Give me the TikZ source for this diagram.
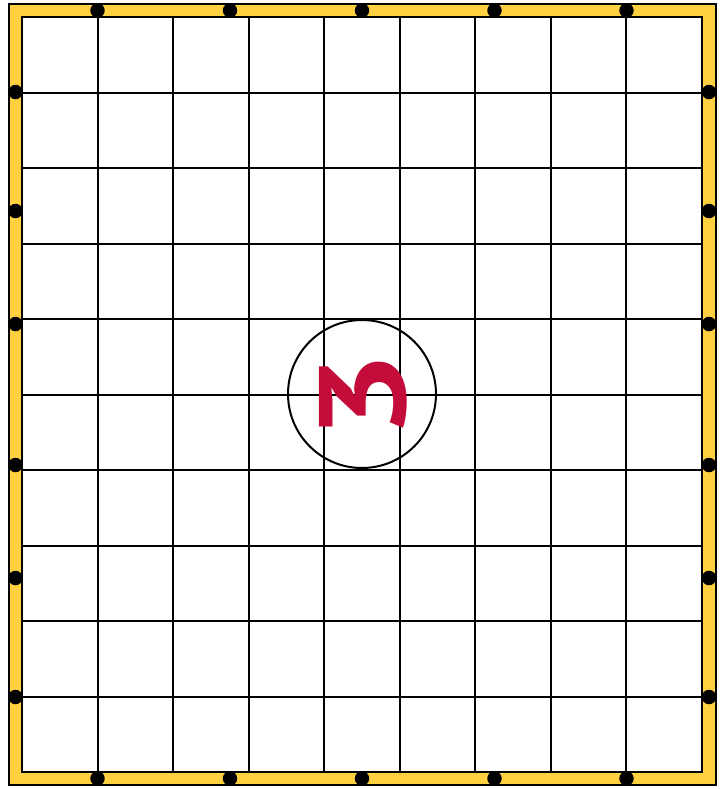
\documentclass[tikz,border=0pt]{standalone}
\usepackage{fontspec}
\newfontfamily\digitfont{PT Sans}
\usepackage{xcolor}
\usepackage{tikz}
\usetikzlibrary{positioning}

\definecolor{frameyellow}{RGB}{255,208,64}
\definecolor{sealred}{RGB}{196,12,58}

\begin{document}
\begin{tikzpicture}[
    x=0.02cm, y=-0.02cm,
    frame/.style={draw=black, line width=0.05cm, fill=frameyellow},
    board/.style={draw=black, line width=0.04cm, fill=white},
    peg/.style={circle, fill=black, inner sep=0pt, minimum size=0.29cm},
    seal/.style={circle, draw=black, line width=0.04cm, minimum size=2.96cm, inner sep=0pt},
    digit/.style={text=sealred, font=\digitfont\bfseries\fontsize{70}{70}\selectfont, inner sep=0pt}
]
\useasboundingbox (0,0) rectangle (725,789);

% Frame and board
\draw[frame] (9,4) rectangle (716,785);
\draw[board] (22,17) rectangle (702,772);

% Grid: 9 columns, 10 rows
\foreach \i in {1,...,8}
    \draw[line width=0.04cm] ({22+\i*680/9},17) -- ({22+\i*680/9},772);
\foreach \j in {1,...,9}
    \draw[line width=0.04cm] (22,{17+\j*75.5}) -- (702,{17+\j*75.5});

% Pegs top and bottom
\node[peg] (t1) at (97.5,10.5) {};
\node[peg] (t2) at (230,10.5) {};
\node[peg] (t3) at (362,10.5) {};
\node[peg] (t4) at (494.5,10.5) {};
\node[peg] (t5) at (626.5,10.5) {};
\node[peg] (b1) at (97.5,778.5) {};
\node[peg] (b2) at (230,778.5) {};
\node[peg] (b3) at (362,778.5) {};
\node[peg] (b4) at (494.5,778.5) {};
\node[peg] (b5) at (626.5,778.5) {};

% Pegs left and right
\node[peg] (l1) at (15.5,92) {};
\node[peg] (l2) at (15.5,211) {};
\node[peg] (l3) at (15.5,324) {};
\node[peg] (l4) at (15.5,465) {};
\node[peg] (l5) at (15.5,578) {};
\node[peg] (l6) at (15.5,697) {};
\node[peg] (r1) at (709,92) {};
\node[peg] (r2) at (709,211) {};
\node[peg] (r3) at (709,324) {};
\node[peg] (r4) at (709,465) {};
\node[peg] (r5) at (709,578) {};
\node[peg] (r6) at (709,697) {};

% Centre seal
\node[seal] (ring) at (362,394) {};
\node[digit, rotate=90, xscale=1.28] (three) at (363,396) {3};

\end{tikzpicture}
\end{document}
